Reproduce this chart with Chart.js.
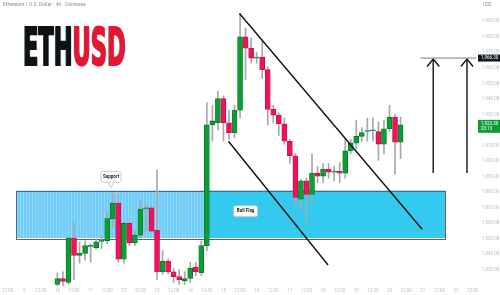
<!DOCTYPE html>
<html>
<head>
<meta charset="utf-8">
<script src="https://cdn.jsdelivr.net/npm/chart.js@4.4.1/dist/chart.umd.min.js"></script>
<style>
html, body { margin: 0; padding: 0; background: #fff; }
#wrap { position: relative; width: 500px; height: 295px; overflow: hidden; }
#header { position: absolute; left: 3px; top: 1px; font-family: Roboto, sans-serif; font-size: 5px; color: #8a8f96; white-space: nowrap; }
#title { position: absolute; left: 23px; top: 22px; font-family: "Liberation Sans Narrow", "DejaVu Sans Condensed", sans-serif; font-weight: bold; font-size: 51px; line-height: 51px; transform: scaleX(0.49); transform-origin: 0 0; white-space: nowrap; text-shadow: -2px 0 #9fe6f2, 2px 1px #a8d8ee; }
#title .eth { color: #111; -webkit-text-stroke: 2px #111; }
#title .usd { color: #e5172f; -webkit-text-stroke: 2px #e5172f; }
</style>
</head>
<body>
<div id="wrap">
  <canvas id="chart-ethusd"></canvas>
  <div id="header">Ethereum / U.S. Dollar · 4h · Coinbase</div>
  <div id="title"><span class="eth">ETH</span><span class="usd">USD</span></div>
</div>
<script>
// candles (4h)
const opens  = [1820.5, 1824.3, 1821.8, 1850.4, 1839.2, 1840.5, 1845.0, 1844.2, 1848.2, 1848.6,
                1862.9, 1872.9, 1836.7, 1859.8, 1847.3, 1852.3, 1869.1, 1869.8, 1855.4, 1828.6,
                1835.5, 1828.6, 1825.5, 1823.0, 1824.3, 1831.7, 1828.0, 1845.5, 1923.3, 1924.6,
                1940.2, 1924.6, 1918.3, 1932.7, 1980.0, 1972.6, 1966.3, 1967.0, 1958.9, 1933.3,
                1929.6, 1924.0, 1912.7, 1903.4, 1875.4, 1887.2, 1878.5, 1892.2, 1890.3, 1894.7,
                1892.8, 1893.4, 1892.2, 1906.5, 1911.5, 1915.9, 1919.0, 1919.5, 1919.0, 1910.9,
                1920.8, 1928.3, 1912.1];
const highs  = [1828.0, 1828.6, 1851.0, 1860.4, 1847.9, 1848.6, 1846.7, 1849.8, 1851.7, 1867.3,
                1879.1, 1878.5, 1861.0, 1861.0, 1854.8, 1874.7, 1872.2, 1871.0, 1894.1, 1842.3,
                1837.0, 1831.1, 1830.0, 1828.6, 1834.9, 1834.9, 1848.6, 1937.7, 1935.8, 1945.1,
                1942.0, 1932.7, 1935.8, 1995.0, 1985.6, 1979.4, 1970.0, 1977.5, 1960.7, 1935.8,
                1931.0, 1927.7, 1914.0, 1905.0, 1888.0, 1889.0, 1904.6, 1896.5, 1898.4, 1898.4,
                1896.5, 1899.0, 1914.0, 1914.0, 1926.4, 1921.5, 1927.7, 1927.7, 1925.2, 1926.4,
                1935.8, 1930.0, 1928.3];
const lows   = [1819.3, 1819.3, 1820.5, 1823.6, 1834.2, 1836.1, 1834.9, 1843.0, 1843.6, 1846.7,
                1857.9, 1834.9, 1834.2, 1845.5, 1845.5, 1851.0, 1854.8, 1854.2, 1823.6, 1827.0,
                1827.5, 1821.8, 1820.5, 1820.5, 1821.8, 1826.1, 1826.1, 1842.3, 1912.7, 1920.0,
                1912.7, 1914.0, 1915.0, 1927.7, 1952.6, 1963.2, 1963.0, 1953.2, 1923.3, 1924.6,
                1916.5, 1910.9, 1898.4, 1870.4, 1868.5, 1861.0, 1873.5, 1886.0, 1886.0, 1889.0,
                1887.2, 1886.0, 1889.0, 1904.6, 1907.8, 1912.7, 1912.7, 1912.7, 1900.3, 1904.6,
                1919.0, 1891.6, 1901.5];
const closes = [1824.3, 1822.4, 1850.4, 1839.2, 1840.5, 1845.5, 1845.6, 1847.9, 1848.6, 1862.9,
                1872.9, 1836.7, 1859.8, 1847.3, 1852.3, 1869.1, 1869.8, 1854.8, 1828.6, 1835.5,
                1828.6, 1825.5, 1823.6, 1824.3, 1831.1, 1828.6, 1845.5, 1923.3, 1925.8, 1940.2,
                1924.6, 1918.3, 1932.7, 1980.0, 1972.6, 1966.3, 1967.0, 1958.9, 1933.3, 1929.6,
                1924.0, 1912.7, 1903.4, 1876.6, 1887.2, 1878.5, 1892.2, 1890.3, 1894.7, 1892.8,
                1893.4, 1892.2, 1906.5, 1911.5, 1915.9, 1918.3, 1919.6, 1919.7, 1910.9, 1920.8,
                1928.3, 1912.1, 1923.3];

// axes
const xTickPos = [-9, -6, -3, 0, 3, 6, 9, 12, 15, 18, 21, 24, 27, 30, 33, 36, 39, 42, 45, 48, 51, 54, 57, 60, 63, 66, 69, 72, 75];
const xTickLabels = ["12:00", "9", "12:00", "10", "12:00", "11", "12:00", "12", "12:00", "13", "12:00", "14", "12:00", "15",
                     "12:00", "16", "12:00", "17", "12:00", "18", "12:00", "19", "12:00", "20", "12:00", "21", "12:00", "22", "12:00"];
const yTicks = [1830, 1840, 1850, 1860, 1870, 1880, 1890, 1900, 1910, 1920, 1930, 1940, 1950, 1960, 1970, 1980, 1990];

// drawings
const supportZone = [-7.4, 70.1, 1850.4, 1881.0]; // from, to, low, high
const zoneSplit = 27;
const channelUpper = [[32.9, 1995.0], [65.9, 1856.0]];
const channelLower = [[30.9, 1912.7], [48.9, 1833.0]];
const targetLevel = 1966.3;
const targetFrom = 65.6;
const arrowXs = [67.9, 74.0];
const arrowBase = 1892.2;
const arrowTip = 1965.7;
const supportNote = [9.7, 1883.0];
const flagNote = [34.0, 1867.7];
const lastPrice = 1923.3;

const GREEN = "#0c9e34", GREEN_EDGE = "#07781f";
const RED = "#f4115b", RED_EDGE = "#c90c49";
const WICK = "#a6a9ad";
const TICK_COLOR = "#b1c5d6";

const CHART_WRAPPER = document.getElementById("chart-ethusd");

const fmt = (v) => v.toLocaleString("en-US", { minimumFractionDigits: 2, maximumFractionDigits: 2 });
const isUp = (i) => closes[i] >= opens[i];

// striped fill for the older part of the zone
const stripe = document.createElement("canvas");
stripe.width = 3;
stripe.height = 1;
const sctx = stripe.getContext("2d");
sctx.fillStyle = "#6fcbf7";
sctx.fillRect(0, 0, 3, 1);
sctx.fillStyle = "#8fd8fb";
sctx.fillRect(2, 0, 1, 1);

const lineSet = (pts, extra) => ({
	type: "line",
	data: pts.map((p) => ({ x: p[0], y: p[1] })),
	borderColor: "#111",
	borderWidth: 1.4,
	pointRadius: 0,
	tension: 0,
	order: 0,
	...extra,
});

const roundBox = (ctx, x, y, w, h, r) => {
	ctx.beginPath();
	ctx.moveTo(x + r, y);
	ctx.lineTo(x + w - r, y);
	ctx.quadraticCurveTo(x + w, y, x + w, y + r);
	ctx.lineTo(x + w, y + h - r);
	ctx.quadraticCurveTo(x + w, y + h, x + w - r, y + h);
	ctx.lineTo(x + r, y + h);
	ctx.quadraticCurveTo(x, y + h, x, y + h - r);
	ctx.lineTo(x, y + r);
	ctx.quadraticCurveTo(x, y, x + r, y);
	ctx.closePath();
};

const drawingsPlugin = {
	id: "drawings",
	beforeDatasetsDraw(chart) {
		const { ctx, scales } = chart;
		const x = scales.x, y = scales.y;
		const x0 = x.getPixelForValue(supportZone[0]);
		const x1 = x.getPixelForValue(supportZone[1]);
		const xs = x.getPixelForValue(zoneSplit);
		const yTop = y.getPixelForValue(supportZone[3]);
		const yBot = y.getPixelForValue(supportZone[2]);
		ctx.save();
		ctx.fillStyle = ctx.createPattern(stripe, "repeat");
		ctx.fillRect(x0, yTop, xs - x0, yBot - yTop);
		ctx.fillStyle = "#34caef";
		ctx.fillRect(xs, yTop, x1 - xs, yBot - yTop);
		ctx.strokeStyle = "#5a6470";
		ctx.lineWidth = 1;
		ctx.strokeRect(Math.round(x0) + 0.5, Math.round(yTop) + 0.5, Math.round(x1 - x0), Math.round(yBot - yTop));
		ctx.restore();
	},
	afterDatasetsDraw(chart) {
		const { ctx, scales } = chart;
		const x = scales.x, y = scales.y;
		ctx.save();
		ctx.font = "bold 4.5px Roboto, sans-serif";
		ctx.textAlign = "center";
		ctx.textBaseline = "middle";
		// Support callout
		let px = x.getPixelForValue(supportNote[0]);
		let py = y.getPixelForValue(supportNote[1]);
		ctx.fillStyle = "#fff";
		ctx.strokeStyle = "#b9c3cc";
		ctx.lineWidth = 0.8;
		roundBox(ctx, px - 10, py - 16, 20, 11, 2);
		ctx.fill();
		ctx.stroke();
		ctx.beginPath();
		ctx.moveTo(px - 3, py - 5);
		ctx.lineTo(px, py);
		ctx.lineTo(px + 3, py - 5);
		ctx.fill();
		ctx.stroke();
		ctx.fillStyle = "#222";
		ctx.fillText("Support", px, py - 10.5);
		// Bull Flag note
		px = x.getPixelForValue(flagNote[0]);
		py = y.getPixelForValue(flagNote[1]);
		ctx.fillStyle = "#fff";
		roundBox(ctx, px - 12, py - 5.5, 24, 11, 2);
		ctx.fill();
		ctx.stroke();
		ctx.fillStyle = "#222";
		ctx.fillText("Bull Flag", px, py);
		ctx.restore();
	},
	afterDraw(chart) {
		const { ctx, scales, chartArea } = chart;
		const y = scales.y;
		const left = chartArea.right + 2;
		ctx.save();
		ctx.font = "4.5px Roboto, sans-serif";
		ctx.textBaseline = "middle";
		ctx.textAlign = "left";
		ctx.fillStyle = "#8a8f96";
		ctx.fillText("USD", left + 5, 5);
		// target level label
		let py = y.getPixelForValue(targetLevel);
		ctx.fillStyle = "#131722";
		ctx.fillRect(left, py - 3.5, 500 - left, 7);
		ctx.fillStyle = "#fff";
		ctx.fillText(fmt(targetLevel), left + 3, py);
		// last price label
		py = y.getPixelForValue(lastPrice);
		ctx.fillStyle = "#0c9e34";
		ctx.fillRect(left, py - 5, 500 - left, 13);
		ctx.fillStyle = "#fff";
		ctx.fillText(fmt(lastPrice), left + 3, py - 1);
		ctx.fillText("03:13", left + 3, py + 4.5);
		ctx.restore();
	},
};

const CHART_DATA = {
	datasets: [
		{
			label: "Body",
			data: opens.map((o, i) => ({ x: i, y: [o, closes[i]] })),
			backgroundColor: (c) => (isUp(c.dataIndex) ? GREEN : RED),
			borderColor: (c) => (isUp(c.dataIndex) ? GREEN_EDGE : RED_EDGE),
			borderWidth: 0.8,
			borderSkipped: false,
			barThickness: 5,
			minBarLength: 1,
			grouped: false,
			order: 1,
		},
		{
			label: "Wick",
			data: lows.map((l, i) => ({ x: i, y: [l, highs[i]] })),
			backgroundColor: WICK,
			borderWidth: 0,
			barThickness: 1,
			grouped: false,
			order: 2,
		},
		lineSet(channelUpper),
		lineSet(channelLower),
		lineSet([[targetFrom, targetLevel], [80, targetLevel]], { borderColor: "#6f7e8c", borderWidth: 1 }),
		...arrowXs.map((ax) => lineSet([[ax, arrowBase], [ax, arrowTip]])),
		...arrowXs.map((ax) => lineSet([[ax - 1.1, arrowTip - 4.8], [ax, arrowTip], [ax + 1.1, arrowTip - 4.8]])),
	],
};

const CHART_CONFIG = {
	type: "bar",
	data: CHART_DATA,
	options: {
		responsive: false,
		animation: false,
		layout: { padding: 0 },
		scales: {
			x: {
				type: "linear",
				offset: false,
				min: -9.88,
				max: 75.63,
				border: { display: false },
				grid: { display: false, drawTicks: false },
				afterBuildTicks: (scale) => {
					scale.ticks = xTickPos.map((v) => ({ value: v }));
				},
				afterFit: (scale) => {
					scale.height = 8;
				},
				ticks: {
					autoSkip: false,
					maxRotation: 0,
					padding: 2,
					color: TICK_COLOR,
					font: { family: "Roboto", size: 4.5 },
					callback: (v) => xTickLabels[xTickPos.indexOf(v)],
				},
			},
			y: {
				position: "right",
				min: 1819.3,
				max: 1998.1,
				border: { display: false },
				grid: { display: false, drawTicks: false },
				afterBuildTicks: (scale) => {
					scale.ticks = yTicks.map((v) => ({ value: v }));
				},
				afterFit: (scale) => {
					scale.width = 24;
				},
				ticks: {
					padding: 6,
					color: TICK_COLOR,
					font: { family: "Roboto", size: 4.5 },
					callback: (v) => fmt(v),
				},
			},
		},
		plugins: {
			legend: { display: false },
			tooltip: { enabled: false },
		},
	},
	plugins: [drawingsPlugin],
};

CHART_WRAPPER.width = 500;
CHART_WRAPPER.height = 295;
new Chart(CHART_WRAPPER, CHART_CONFIG);
</script>
</body>
</html>
